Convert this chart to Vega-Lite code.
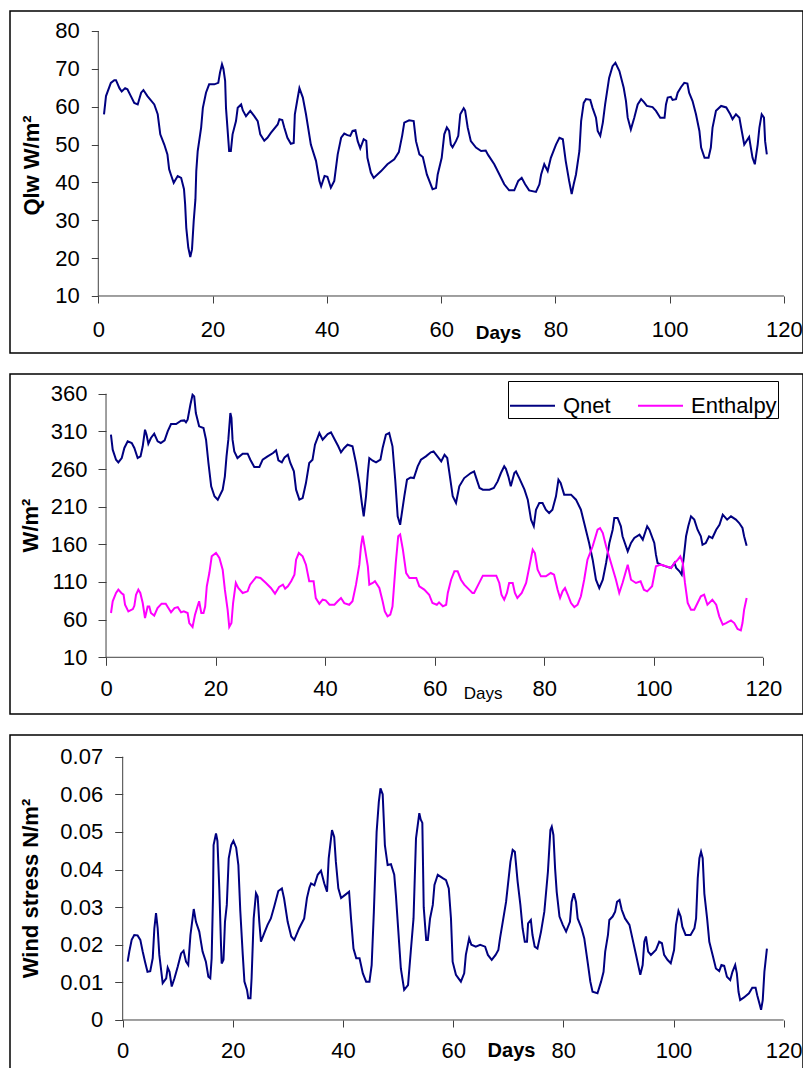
{
"$schema": "https://vega.github.io/schema/vega-lite/v6.json",
"background": "white",
"padding": {"left": 9, "top": 10, "right": 0, "bottom": 0},
"spacing": 19,
"resolve": {"scale": {"color": "independent"}, "legend": {"color": "independent"}},
"config": {
  "font": "Liberation Sans",
  "view": {"stroke": "#000000", "strokeWidth": 1.5},
  "axis": {"labelFont": "Liberation Sans", "titleFont": "Liberation Sans", "tickColor": "#404040", "labelColor": "#000000", "titleColor": "#000000", "grid": false, "domain": false, "labelFlush": false, "labelOverlap": false, "titleBaseline": "middle", "titleAlign": "center"},
  "legend": {"labelFont": "Liberation Sans"}
},
"datasets": {
"qlw": [{"d":1.0,"v":58},{"d":1.35,"v":62.8},{"d":2.2,"v":66.3},{"d":2.8,"v":67},{"d":3.1,"v":67},{"d":3.7,"v":64.9},{"d":4.1,"v":64},{"d":4.7,"v":64.9},{"d":5.1,"v":64.6},{"d":5.7,"v":62.8},{"d":6.3,"v":61},{"d":6.9,"v":60.6},{"d":7.5,"v":63.7},{"d":7.9,"v":64.4},{"d":8.6,"v":62.8},{"d":9.8,"v":60.6},{"d":10.4,"v":58},{"d":10.85,"v":52.7},{"d":11.55,"v":50},{"d":12.1,"v":47.4},{"d":12.4,"v":43.5},{"d":12.7,"v":42.1},{"d":13.2,"v":39.9},{"d":13.9,"v":41.7},{"d":14.5,"v":41.2},{"d":15,"v":38.2},{"d":15.2,"v":34.2},{"d":15.4,"v":28},{"d":15.75,"v":22.8},{"d":16.1,"v":20.3},{"d":16.4,"v":22.3},{"d":16.7,"v":29.8},{"d":17,"v":35.5},{"d":17.15,"v":43},{"d":17.4,"v":48.3},{"d":18,"v":54.5},{"d":18.3,"v":59.7},{"d":18.85,"v":63.7},{"d":19.4,"v":65.9},{"d":20.3,"v":65.9},{"d":21,"v":66.3},{"d":21.3,"v":69},{"d":21.65,"v":71.2},{"d":21.9,"v":70},{"d":22.2,"v":66.8},{"d":22.35,"v":59.7},{"d":22.9,"v":48.3},{"d":23.2,"v":48.3},{"d":23.5,"v":52.7},{"d":24.1,"v":56.2},{"d":24.4,"v":59.7},{"d":25,"v":60.6},{"d":25.3,"v":59},{"d":25.85,"v":57.5},{"d":26.6,"v":58.9},{"d":27.3,"v":57.5},{"d":27.9,"v":56.2},{"d":28.35,"v":52.7},{"d":29.05,"v":51},{"d":29.6,"v":51.8},{"d":30.2,"v":53.1},{"d":31.4,"v":55.3},{"d":31.7,"v":56.7},{"d":32.2,"v":56.5},{"d":32.55,"v":54.5},{"d":33.1,"v":51.8},{"d":33.7,"v":50.2},{"d":34.2,"v":50.4},{"d":34.4,"v":58},{"d":34.8,"v":61.5},{"d":35.2,"v":64.9},{"d":35.8,"v":62.4},{"d":36.35,"v":58},{"d":37.2,"v":50},{"d":38.1,"v":45.7},{"d":38.7,"v":40.4},{"d":39,"v":39},{"d":39.6,"v":41.7},{"d":40.1,"v":41.5},{"d":40.7,"v":38.6},{"d":41.3,"v":40.4},{"d":41.9,"v":47.4},{"d":42.5,"v":51.8},{"d":43.05,"v":52.9},{"d":43.6,"v":52.5},{"d":44.1,"v":52.3},{"d":44.5,"v":53.6},{"d":45,"v":53.8},{"d":45.4,"v":50.9},{"d":45.85,"v":49},{"d":46.45,"v":51.4},{"d":46.9,"v":51},{"d":47.1,"v":46.5},{"d":47.7,"v":42.6},{"d":48.2,"v":41.2},{"d":49.5,"v":43},{"d":50.6,"v":44.8},{"d":51.8,"v":46.1},{"d":52.6,"v":48},{"d":53.2,"v":52.5},{"d":53.55,"v":55.8},{"d":54.4,"v":56.4},{"d":55.2,"v":56.2},{"d":55.6,"v":50.9},{"d":56.2,"v":47.4},{"d":56.8,"v":46.7},{"d":57.5,"v":42.1},{"d":58.5,"v":38.2},{"d":59.1,"v":38.5},{"d":59.4,"v":42.1},{"d":60.1,"v":46.5},{"d":60.55,"v":52.7},{"d":61,"v":54.5},{"d":61.4,"v":53.6},{"d":61.7,"v":50},{"d":62,"v":49.3},{"d":62.6,"v":50.9},{"d":63,"v":52.3},{"d":63.35,"v":58},{"d":63.95,"v":59.6},{"d":64.2,"v":59},{"d":64.65,"v":54.5},{"d":65.2,"v":50.9},{"d":66.1,"v":49.2},{"d":67,"v":48.3},{"d":67.8,"v":48.4},{"d":68.25,"v":47.2},{"d":69.3,"v":44.8},{"d":70.2,"v":42.1},{"d":71.05,"v":39.5},{"d":71.9,"v":37.9},{"d":72.8,"v":37.9},{"d":73.5,"v":40.4},{"d":74.1,"v":41.2},{"d":74.7,"v":39.5},{"d":75.4,"v":37.9},{"d":76.6,"v":37.5},{"d":77.2,"v":39.5},{"d":77.5,"v":42.1},{"d":78.05,"v":44.8},{"d":78.65,"v":43},{"d":79.2,"v":46.5},{"d":80.1,"v":50},{"d":80.7,"v":51.8},{"d":81.3,"v":51.4},{"d":81.8,"v":45.7},{"d":82.4,"v":40.4},{"d":82.85,"v":36.9},{"d":83.2,"v":39.5},{"d":83.6,"v":42.1},{"d":84.2,"v":48.3},{"d":84.5,"v":56.2},{"d":84.95,"v":61},{"d":85.35,"v":62},{"d":86.1,"v":61.8},{"d":86.5,"v":59.7},{"d":87.1,"v":57.1},{"d":87.4,"v":53.6},{"d":87.85,"v":52.3},{"d":88.3,"v":55.8},{"d":88.7,"v":60.6},{"d":89.4,"v":67.6},{"d":90,"v":70.7},{"d":90.5,"v":71.6},{"d":91.2,"v":69.4},{"d":91.95,"v":65},{"d":92.35,"v":61.5},{"d":92.65,"v":57.1},{"d":93.2,"v":54},{"d":93.8,"v":57.1},{"d":94.4,"v":60.6},{"d":95,"v":62},{"d":95.5,"v":61.2},{"d":96,"v":60.2},{"d":97,"v":59.9},{"d":97.6,"v":58.9},{"d":98.35,"v":57.1},{"d":99.1,"v":57.1},{"d":99.35,"v":60.6},{"d":99.65,"v":62.4},{"d":100.2,"v":62.6},{"d":100.5,"v":61.8},{"d":101.1,"v":62},{"d":101.4,"v":63.7},{"d":102,"v":65.2},{"d":102.55,"v":66.3},{"d":103.1,"v":66.1},{"d":103.4,"v":63.7},{"d":104,"v":61.5},{"d":104.6,"v":58},{"d":105.2,"v":53.6},{"d":105.5,"v":49.2},{"d":106.1,"v":46.5},{"d":106.8,"v":46.5},{"d":107.2,"v":49.2},{"d":107.5,"v":54.5},{"d":108.1,"v":58.9},{"d":109,"v":60.2},{"d":109.9,"v":59.8},{"d":110.6,"v":58},{"d":111,"v":56.7},{"d":111.6,"v":58},{"d":112.2,"v":57.1},{"d":112.5,"v":54.5},{"d":113.05,"v":50},{"d":113.9,"v":52},{"d":114.2,"v":49.2},{"d":114.5,"v":46.5},{"d":114.9,"v":44.8},{"d":115.4,"v":50},{"d":115.7,"v":54.5},{"d":116.1,"v":58},{"d":116.5,"v":57.1},{"d":116.7,"v":50.9},{"d":117,"v":47.4}],
"qnet": [{"d":0.9,"v":305.6},{"d":1.22,"v":285.7},{"d":1.83,"v":272.4},{"d":2.25,"v":268.9},{"d":2.87,"v":274.6},{"d":3.35,"v":288},{"d":3.96,"v":296.8},{"d":4.7,"v":294.6},{"d":5.17,"v":288},{"d":5.78,"v":274.6},{"d":6.3,"v":276.8},{"d":6.7,"v":290.2},{"d":7.12,"v":312.2},{"d":7.4,"v":305.6},{"d":7.73,"v":293.6},{"d":8.2,"v":301.2},{"d":8.8,"v":306.9},{"d":9.43,"v":296.8},{"d":10,"v":294.6},{"d":10.7,"v":298.2},{"d":11.26,"v":310.1},{"d":11.87,"v":319.8},{"d":12.8,"v":319.8},{"d":13.7,"v":324.2},{"d":14.3,"v":324.6},{"d":14.6,"v":322},{"d":14.9,"v":325.5},{"d":15.4,"v":345.4},{"d":15.8,"v":358.7},{"d":16.1,"v":356.5},{"d":16.4,"v":334.4},{"d":17,"v":316.7},{"d":17.8,"v":314.5},{"d":18.26,"v":299},{"d":18.7,"v":268},{"d":19.2,"v":237},{"d":19.8,"v":223.8},{"d":20.4,"v":219.3},{"d":21.3,"v":232.6},{"d":21.7,"v":250.3},{"d":22,"v":276.9},{"d":22.33,"v":299},{"d":22.7,"v":334.4},{"d":22.9,"v":327.9},{"d":23.1,"v":299},{"d":23.42,"v":283.5},{"d":24,"v":274.6},{"d":24.95,"v":280.4},{"d":25.85,"v":280.4},{"d":26.35,"v":272.4},{"d":27.07,"v":262.7},{"d":28,"v":262.7},{"d":28.6,"v":272.4},{"d":29.5,"v":276.8},{"d":30.5,"v":281.3},{"d":31.05,"v":284.8},{"d":31.47,"v":271.6},{"d":32.1,"v":268.9},{"d":32.6,"v":275.5},{"d":33.2,"v":279},{"d":33.65,"v":268},{"d":34.3,"v":257},{"d":34.7,"v":232.6},{"d":35.3,"v":219.3},{"d":35.9,"v":221.5},{"d":36.5,"v":241.4},{"d":37.1,"v":268},{"d":37.7,"v":272.4},{"d":38.15,"v":292.3},{"d":38.95,"v":307.8},{"d":39.55,"v":299},{"d":40.47,"v":306.5},{"d":41.07,"v":308.7},{"d":41.7,"v":299.9},{"d":42.4,"v":290.2},{"d":42.9,"v":282.2},{"d":43.5,"v":288},{"d":44.1,"v":292.3},{"d":45,"v":290.2},{"d":45.64,"v":268},{"d":46.25,"v":241.4},{"d":46.7,"v":214.9},{"d":47.05,"v":197.2},{"d":47.47,"v":223.8},{"d":47.8,"v":254.7},{"d":48.07,"v":274.6},{"d":48.7,"v":271.1},{"d":49.3,"v":268.9},{"d":50.1,"v":272.4},{"d":50.5,"v":288},{"d":51.1,"v":305.6},{"d":51.7,"v":307.8},{"d":52.3,"v":290.2},{"d":52.8,"v":245.8},{"d":53.25,"v":197.2},{"d":53.7,"v":186},{"d":54.46,"v":223.8},{"d":54.95,"v":245.8},{"d":55.6,"v":248.8},{"d":56.2,"v":248},{"d":56.9,"v":263.6},{"d":57.5,"v":272.4},{"d":58.4,"v":276.8},{"d":59.3,"v":282.2},{"d":59.8,"v":283.5},{"d":60.5,"v":276.8},{"d":61.2,"v":270.2},{"d":61.8,"v":279},{"d":62.3,"v":274.6},{"d":62.7,"v":254.7},{"d":63.3,"v":223.8},{"d":63.9,"v":214.9},{"d":64.5,"v":237},{"d":65.4,"v":248},{"d":66.6,"v":254.7},{"d":67.2,"v":256.8},{"d":67.6,"v":248},{"d":68.2,"v":234.8},{"d":68.8,"v":232.6},{"d":70,"v":232.6},{"d":70.8,"v":234.8},{"d":71.5,"v":243.6},{"d":72.1,"v":254.7},{"d":72.7,"v":263.6},{"d":73,"v":260.3},{"d":73.45,"v":250.3},{"d":73.9,"v":237},{"d":74.55,"v":254.7},{"d":74.85,"v":256.8},{"d":75.45,"v":248},{"d":76.4,"v":232.6},{"d":77,"v":219.3},{"d":77.6,"v":192.7},{"d":78.1,"v":184},{"d":78.5,"v":206},{"d":79.1,"v":214.9},{"d":79.7,"v":214.9},{"d":80.3,"v":206},{"d":80.9,"v":201.6},{"d":81.5,"v":206},{"d":82.15,"v":223.8},{"d":82.6,"v":245.8},{"d":83,"v":241.4},{"d":83.65,"v":226},{"d":84.3,"v":226},{"d":84.9,"v":226},{"d":85.8,"v":219.3},{"d":86.7,"v":206},{"d":87.3,"v":188.3},{"d":88.2,"v":161.8},{"d":88.85,"v":139.6},{"d":89.45,"v":113},{"d":90.06,"v":102},{"d":90.7,"v":113},{"d":91.3,"v":135.2},{"d":91.9,"v":161.8},{"d":92.5,"v":179.4},{"d":92.8,"v":195},{"d":93.4,"v":195},{"d":94,"v":184},{"d":94.3,"v":170.7},{"d":95.25,"v":150.8},{"d":95.85,"v":161.8},{"d":96.45,"v":168.4},{"d":97.4,"v":172.8},{"d":98,"v":166.2},{"d":98.8,"v":184},{"d":99.2,"v":179.4},{"d":100.1,"v":161.8},{"d":100.4,"v":146.3},{"d":100.7,"v":135.2},{"d":101.3,"v":133.1},{"d":102.2,"v":130.8},{"d":103.15,"v":128.6},{"d":103.8,"v":135.2},{"d":104.1,"v":128.6},{"d":104.7,"v":124.2},{"d":105.1,"v":119.7},{"d":105.5,"v":144.1},{"d":105.9,"v":170.7},{"d":106.3,"v":184},{"d":106.8,"v":197.2},{"d":107.4,"v":192.8},{"d":108,"v":179.4},{"d":108.6,"v":170.7},{"d":108.9,"v":159.5},{"d":109.5,"v":161.7},{"d":110.1,"v":170.7},{"d":110.7,"v":168.4},{"d":111.4,"v":179.4},{"d":112,"v":186},{"d":112.6,"v":199.4},{"d":113.4,"v":192.8},{"d":114.1,"v":197.2},{"d":115,"v":192.8},{"d":115.6,"v":188.3},{"d":116.2,"v":181.7},{"d":116.5,"v":170.7},{"d":116.96,"v":158.2}],
"enth": [{"d":0.91,"v":68.8},{"d":1.22,"v":84.4},{"d":1.83,"v":95.4},{"d":2.25,"v":99.8},{"d":2.8,"v":95.4},{"d":3.2,"v":93.2},{"d":3.47,"v":79.8},{"d":4.08,"v":71},{"d":4.9,"v":74},{"d":5.17,"v":78.4},{"d":5.48,"v":93.1},{"d":5.9,"v":99.8},{"d":6.26,"v":95.4},{"d":6.7,"v":82.1},{"d":7.12,"v":62.2},{"d":7.6,"v":77.5},{"d":7.9,"v":77.5},{"d":8.2,"v":68.8},{"d":8.8,"v":65.3},{"d":9.4,"v":75.3},{"d":10.15,"v":81.2},{"d":10.9,"v":81.2},{"d":11.87,"v":69.7},{"d":12.5,"v":75.3},{"d":13.1,"v":76.6},{"d":13.7,"v":69.7},{"d":14.2,"v":71},{"d":14.9,"v":68.8},{"d":15.2,"v":55.5},{"d":15.8,"v":50.2},{"d":16.25,"v":66.6},{"d":16.7,"v":77.5},{"d":17,"v":84.4},{"d":17.4,"v":68.8},{"d":17.8,"v":68.8},{"d":18.1,"v":77.5},{"d":18.4,"v":104.3},{"d":18.86,"v":121.9},{"d":19.3,"v":144.1},{"d":20.08,"v":148.5},{"d":20.7,"v":142},{"d":21.3,"v":126.3},{"d":21.7,"v":99.8},{"d":22.2,"v":73.2},{"d":22.5,"v":50.2},{"d":22.9,"v":55.5},{"d":23.2,"v":82.1},{"d":23.7,"v":108.7},{"d":24.15,"v":102},{"d":24.95,"v":95.4},{"d":25.85,"v":97.6},{"d":26.3,"v":106.5},{"d":27.4,"v":116.6},{"d":28.2,"v":115.3},{"d":29.2,"v":108.7},{"d":30.1,"v":102},{"d":30.85,"v":94.5},{"d":31.6,"v":103.4},{"d":32.3,"v":106.5},{"d":32.7,"v":101.2},{"d":33.2,"v":104.3},{"d":33.8,"v":110.9},{"d":34.4,"v":119.7},{"d":34.7,"v":139.6},{"d":35.2,"v":148.5},{"d":35.9,"v":144.1},{"d":36.5,"v":133},{"d":37.1,"v":110.9},{"d":37.9,"v":110.9},{"d":38.3,"v":88.7},{"d":38.95,"v":81.2},{"d":39.55,"v":86.5},{"d":40.1,"v":85.6},{"d":40.8,"v":79.8},{"d":41.7,"v":79.8},{"d":42.3,"v":84.4},{"d":42.9,"v":88.7},{"d":43.5,"v":82},{"d":44.4,"v":79.8},{"d":45,"v":84.4},{"d":45.64,"v":106.5},{"d":46.25,"v":133},{"d":46.55,"v":157.4},{"d":46.86,"v":171.5},{"d":47.3,"v":152.9},{"d":47.8,"v":130.8},{"d":48.07,"v":106.5},{"d":48.7,"v":108.7},{"d":49.1,"v":111},{"d":49.9,"v":102},{"d":50.5,"v":84.4},{"d":50.9,"v":71},{"d":51.4,"v":64.4},{"d":51.9,"v":66.6},{"d":52.3,"v":77.5},{"d":52.9,"v":135.2},{"d":53.35,"v":170.7},{"d":53.7,"v":173},{"d":54.2,"v":152.9},{"d":54.8,"v":121.9},{"d":55.4,"v":115.3},{"d":56.65,"v":115.3},{"d":57.2,"v":104.3},{"d":58.1,"v":99.9},{"d":59,"v":93.1},{"d":59.6,"v":82.1},{"d":60.4,"v":79.8},{"d":60.8,"v":82.9},{"d":61.5,"v":77.7},{"d":62.1,"v":79.8},{"d":62.4,"v":95.4},{"d":63,"v":113},{"d":63.6,"v":124.2},{"d":64.2,"v":124.2},{"d":64.8,"v":113},{"d":65.4,"v":106.5},{"d":66.3,"v":99.9},{"d":66.9,"v":95.4},{"d":67.2,"v":95.4},{"d":67.97,"v":106.5},{"d":68.8,"v":118.4},{"d":70.3,"v":118.4},{"d":71.25,"v":118.4},{"d":71.8,"v":108.7},{"d":72.2,"v":93.1},{"d":72.7,"v":86.5},{"d":73.2,"v":95.4},{"d":73.6,"v":108.7},{"d":74.25,"v":108.7},{"d":74.65,"v":95.4},{"d":75.1,"v":88.8},{"d":75.9,"v":95.4},{"d":76.7,"v":108.7},{"d":77.3,"v":130.8},{"d":77.9,"v":152.9},{"d":78.3,"v":148.5},{"d":78.8,"v":126.4},{"d":79.4,"v":117.5},{"d":80.3,"v":117.5},{"d":81.2,"v":121.9},{"d":81.8,"v":119.7},{"d":82.45,"v":99.8},{"d":82.9,"v":88.8},{"d":83.35,"v":97.6},{"d":83.8,"v":102},{"d":84.3,"v":93.2},{"d":84.9,"v":82.1},{"d":85.5,"v":76.6},{"d":86.1,"v":79.8},{"d":86.7,"v":91},{"d":87.3,"v":113},{"d":87.9,"v":139.6},{"d":88.85,"v":157.4},{"d":89.75,"v":179.4},{"d":90.2,"v":181.6},{"d":90.7,"v":175},{"d":91.3,"v":157.4},{"d":92.2,"v":135.2},{"d":93.1,"v":113},{"d":93.7,"v":95.4},{"d":94.3,"v":108.7},{"d":95.25,"v":133},{"d":95.85,"v":113},{"d":96.75,"v":108.7},{"d":97.6,"v":110.9},{"d":98.2,"v":99.8},{"d":98.8,"v":97.6},{"d":99.7,"v":104.3},{"d":100.4,"v":130.8},{"d":101.3,"v":133},{"d":102.2,"v":131},{"d":103.15,"v":128.6},{"d":103.8,"v":135.2},{"d":104.4,"v":139.6},{"d":104.85,"v":144.1},{"d":105.3,"v":135.2},{"d":105.7,"v":108.7},{"d":106.2,"v":82.1},{"d":106.8,"v":73.2},{"d":107.4,"v":73.2},{"d":108,"v":82.1},{"d":108.6,"v":91},{"d":109.2,"v":93.2},{"d":109.8,"v":79.8},{"d":110.7,"v":86.5},{"d":111.4,"v":79.8},{"d":111.96,"v":64.4},{"d":112.6,"v":53.3},{"d":113.2,"v":55.5},{"d":114.1,"v":59},{"d":114.7,"v":55.5},{"d":115.3,"v":47.6},{"d":115.9,"v":45.8},{"d":116.2,"v":55.5},{"d":116.5,"v":73.2},{"d":116.96,"v":88.7}],
"wind": [{"d":0.9,"v":0.0155},{"d":1.2,"v":0.0182},{"d":1.63,"v":0.0213},{"d":2.1,"v":0.0226},{"d":2.7,"v":0.0225},{"d":3.2,"v":0.0213},{"d":3.63,"v":0.0182},{"d":4.05,"v":0.0155},{"d":4.5,"v":0.0128},{"d":5,"v":0.013},{"d":5.45,"v":0.0164},{"d":5.75,"v":0.0244},{"d":6.05,"v":0.0284},{"d":6.35,"v":0.0244},{"d":6.65,"v":0.0173},{"d":7.26,"v":0.0098},{"d":7.9,"v":0.0111},{"d":8.17,"v":0.0139},{"d":8.5,"v":0.0128},{"d":8.9,"v":0.0089},{"d":9.4,"v":0.0111},{"d":10,"v":0.0142},{"d":10.6,"v":0.0177},{"d":11.05,"v":0.0184},{"d":11.5,"v":0.0155},{"d":11.9,"v":0.0146},{"d":12.3,"v":0.0226},{"d":12.9,"v":0.0295},{"d":13.3,"v":0.0261},{"d":13.9,"v":0.0235},{"d":14.5,"v":0.0182},{"d":15.1,"v":0.0155},{"d":15.55,"v":0.0115},{"d":15.9,"v":0.0111},{"d":16.15,"v":0.0164},{"d":16.4,"v":0.0332},{"d":16.5,"v":0.0465},{"d":16.94,"v":0.0496},{"d":17.2,"v":0.0476},{"d":17.55,"v":0.0345},{"d":17.85,"v":0.0199},{"d":17.97,"v":0.015},{"d":18.3,"v":0.016},{"d":18.57,"v":0.0261},{"d":18.9,"v":0.0306},{"d":19.25,"v":0.043},{"d":19.7,"v":0.0465},{"d":20.1,"v":0.0476},{"d":20.6,"v":0.0458},{"d":21,"v":0.0412},{"d":21.35,"v":0.029},{"d":21.8,"v":0.0173},{"d":22.1,"v":0.0102},{"d":22.57,"v":0.008},{"d":22.8,"v":0.0058},{"d":23.2,"v":0.0058},{"d":23.4,"v":0.0111},{"d":23.78,"v":0.027},{"d":24.2,"v":0.0337},{"d":24.5,"v":0.0328},{"d":24.8,"v":0.0261},{"d":25.1,"v":0.0208},{"d":25.7,"v":0.0231},{"d":26.3,"v":0.0253},{"d":26.9,"v":0.027},{"d":27.5,"v":0.0301},{"d":28.25,"v":0.0343},{"d":28.9,"v":0.035},{"d":29.3,"v":0.0323},{"d":29.95,"v":0.0261},{"d":30.6,"v":0.0222},{"d":31.15,"v":0.0213},{"d":32.05,"v":0.0244},{"d":32.95,"v":0.027},{"d":33.45,"v":0.0324},{"d":33.9,"v":0.0352},{"d":34.2,"v":0.0363},{"d":34.8,"v":0.0358},{"d":35.4,"v":0.0386},{"d":36,"v":0.0397},{"d":36.6,"v":0.0363},{"d":37.1,"v":0.0341},{"d":37.4,"v":0.043},{"d":38,"v":0.0505},{"d":38.4,"v":0.0487},{"d":38.7,"v":0.0421},{"d":39.15,"v":0.035},{"d":39.65,"v":0.0324},{"d":40.5,"v":0.0334},{"d":41.1,"v":0.0341},{"d":41.45,"v":0.027},{"d":41.9,"v":0.019},{"d":42.4,"v":0.0164},{"d":43,"v":0.0164},{"d":43.6,"v":0.0124},{"d":44.2,"v":0.0102},{"d":44.8,"v":0.0102},{"d":45.2,"v":0.0146},{"d":45.6,"v":0.0288},{"d":46.1,"v":0.05},{"d":46.5,"v":0.058},{"d":46.8,"v":0.0616},{"d":47.2,"v":0.06},{"d":47.6,"v":0.0465},{"d":48.1,"v":0.0412},{"d":48.7,"v":0.0414},{"d":49.3,"v":0.0386},{"d":49.6,"v":0.0332},{"d":50.5,"v":0.0137},{"d":51.1,"v":0.008},{"d":51.8,"v":0.0093},{"d":52.3,"v":0.0182},{"d":52.8,"v":0.027},{"d":53.25,"v":0.0483},{"d":53.85,"v":0.055},{"d":54.1,"v":0.0533},{"d":54.4,"v":0.0524},{"d":54.65,"v":0.03},{"d":55.1,"v":0.0213},{"d":55.4,"v":0.0213},{"d":55.8,"v":0.027},{"d":56.3,"v":0.0306},{"d":56.6,"v":0.0359},{"d":57.2,"v":0.0386},{"d":58.1,"v":0.0377},{"d":58.7,"v":0.0372},{"d":59.2,"v":0.035},{"d":59.6,"v":0.027},{"d":59.9,"v":0.0155},{"d":60.5,"v":0.012},{"d":61.4,"v":0.0102},{"d":62,"v":0.0124},{"d":62.3,"v":0.0173},{"d":62.9,"v":0.0217},{"d":63.3,"v":0.02},{"d":64.1,"v":0.0195},{"d":64.9,"v":0.02},{"d":65.8,"v":0.0195},{"d":66.3,"v":0.0173},{"d":67,"v":0.016},{"d":67.7,"v":0.0173},{"d":68.2,"v":0.0186},{"d":68.5,"v":0.0217},{"d":69,"v":0.0261},{"d":69.6,"v":0.0314},{"d":70.4,"v":0.0421},{"d":70.8,"v":0.0452},{"d":71.2,"v":0.0447},{"d":71.7,"v":0.0368},{"d":72.2,"v":0.0306},{"d":72.6,"v":0.0244},{"d":73,"v":0.0208},{"d":73.4,"v":0.0208},{"d":73.6,"v":0.0257},{"d":74.1,"v":0.0266},{"d":74.4,"v":0.0226},{"d":74.8,"v":0.0195},{"d":75.3,"v":0.019},{"d":75.95,"v":0.0235},{"d":76.55,"v":0.0288},{"d":77.2,"v":0.0394},{"d":77.65,"v":0.0505},{"d":77.9,"v":0.0514},{"d":78.2,"v":0.0492},{"d":78.5,"v":0.0403},{"d":78.8,"v":0.034},{"d":79.3,"v":0.0275},{"d":79.9,"v":0.0253},{"d":80.5,"v":0.0235},{"d":81.2,"v":0.0261},{"d":81.5,"v":0.0314},{"d":81.9,"v":0.0337},{"d":82.3,"v":0.0314},{"d":82.6,"v":0.027},{"d":83.3,"v":0.0244},{"d":83.8,"v":0.0217},{"d":84.4,"v":0.0155},{"d":84.9,"v":0.0102},{"d":85.3,"v":0.0075},{"d":86.2,"v":0.0071},{"d":86.85,"v":0.0102},{"d":87.3,"v":0.0128},{"d":87.6,"v":0.0182},{"d":88.1,"v":0.0226},{"d":88.35,"v":0.0266},{"d":88.95,"v":0.0275},{"d":89.4,"v":0.0288},{"d":89.75,"v":0.0314},{"d":90.2,"v":0.0319},{"d":90.6,"v":0.0293},{"d":91.2,"v":0.027},{"d":92,"v":0.0253},{"d":92.6,"v":0.0213},{"d":93.2,"v":0.0173},{"d":93.97,"v":0.012},{"d":94.4,"v":0.0146},{"d":94.7,"v":0.0208},{"d":95,"v":0.0222},{"d":95.4,"v":0.0182},{"d":95.9,"v":0.0173},{"d":96.8,"v":0.0186},{"d":97.4,"v":0.0208},{"d":97.9,"v":0.0204},{"d":98.3,"v":0.0173},{"d":98.9,"v":0.016},{"d":99.5,"v":0.0151},{"d":100.1,"v":0.0186},{"d":100.45,"v":0.0253},{"d":100.9,"v":0.029},{"d":101.3,"v":0.0275},{"d":101.6,"v":0.0248},{"d":102.2,"v":0.0226},{"d":103.1,"v":0.0226},{"d":103.8,"v":0.0244},{"d":104.1,"v":0.027},{"d":104.4,"v":0.0377},{"d":104.7,"v":0.043},{"d":105,"v":0.0447},{"d":105.3,"v":0.043},{"d":105.6,"v":0.0336},{"d":106.1,"v":0.027},{"d":106.5,"v":0.0208},{"d":107.1,"v":0.0173},{"d":107.7,"v":0.0137},{"d":108.3,"v":0.013},{"d":108.7,"v":0.0146},{"d":109.2,"v":0.0144},{"d":109.7,"v":0.0115},{"d":110.3,"v":0.0106},{"d":110.7,"v":0.0128},{"d":111.2,"v":0.0146},{"d":111.5,"v":0.0124},{"d":111.8,"v":0.0075},{"d":112.1,"v":0.0053},{"d":112.8,"v":0.006},{"d":113.7,"v":0.0071},{"d":114.3,"v":0.0086},{"d":114.9,"v":0.0086},{"d":115.2,"v":0.0066},{"d":115.6,"v":0.0044},{"d":115.9,"v":0.0027},{"d":116.2,"v":0.0053},{"d":116.5,"v":0.0128},{"d":116.96,"v":0.019}]
},
"vconcat": [
{
  "width": 793, "height": 342,
  "layer": [
    {"data": {"name": "qlw"},
     "mark": {"type": "line", "color": "#000080", "strokeWidth": 2},
     "encoding": {
       "x": {"field": "d", "type": "quantitative",
             "scale": {"domain": [-15.45, 123.33], "nice": false, "zero": false},
             "axis": {"values": [0,20,40,60,80,100,120], "offset": -57, "tickSize": 7, "labelFontSize": 22, "labelPadding": 16,
                      "title": "Days", "titleFontSize": 19, "titleFontWeight": "bold", "titleX": 488, "titleY": 36}},
       "y": {"field": "v", "type": "quantitative",
             "scale": {"domain": [-5.06, 85.28], "nice": false, "zero": false},
             "axis": {"values": [10,20,30,40,50,60,70,80], "offset": -88.3, "tickSize": 7, "labelFontSize": 22, "labelPadding": 12,
                      "title": "Qlw W/m²", "titleFontSize": 22, "titleFontWeight": "bold", "titleX": -67, "titleY": 154, "titleAngle": 270}}
     }},
    {"data": {"values": [{}]},
     "mark": {"type": "rule", "color": "#404040", "strokeWidth": 1},
     "encoding": {"x": {"datum": 0, "type": "quantitative"}, "x2": {"datum": 120}, "y": {"datum": 10, "type": "quantitative"}}},
    {"data": {"values": [{}]},
     "mark": {"type": "rule", "color": "#404040", "strokeWidth": 1},
     "encoding": {"x": {"datum": 0, "type": "quantitative"}, "y": {"datum": 10, "type": "quantitative"}, "y2": {"datum": 80}}}
  ]
},
{
  "width": 793, "height": 340,
  "layer": [
    {"data": {"name": "qnet"},
     "mark": {"type": "line", "strokeWidth": 2},
     "encoding": {
       "x": {"field": "d", "type": "quantitative",
             "scale": {"domain": [-17.53, 127.25], "nice": false, "zero": false},
             "axis": {"values": [0,20,40,60,80,100,120], "offset": -56.7, "tickSize": 8, "labelFontSize": 22, "labelPadding": 13,
                      "title": "Days", "titleFontSize": 17, "titleFontWeight": "normal", "titleX": 472.7, "titleY": 35.7}},
       "y": {"field": "v", "type": "quantitative",
             "scale": {"domain": [-65.3, 386.2], "nice": false, "zero": false},
             "axis": {"values": [10,60,110,160,210,260,310,360], "offset": -96, "tickSize": 8, "labelFontSize": 22, "labelPadding": 11,
                      "title": "W/m²", "titleFontSize": 22, "titleFontWeight": "bold", "titleX": -76, "titleY": 151, "titleAngle": 270}},
       "color": {"datum": "Qnet", "type": "nominal",
                 "scale": {"domain": ["Qnet", "Enthalpy"], "range": ["#000080", "#FF00FF"]},
                 "legend": {"orient": "none", "legendX": 498, "legendY": 7, "direction": "horizontal", "title": null,
                            "symbolType": "stroke", "symbolSize": 2025, "symbolStrokeWidth": 2, "labelFontSize": 22,
                            "strokeColor": "#000000", "fillColor": "#FFFFFF", "padding": 1, "columnPadding": 23, "labelOffset": 7}}
     }},
    {"data": {"name": "enth"},
     "mark": {"type": "line", "strokeWidth": 2},
     "encoding": {
       "x": {"field": "d", "type": "quantitative"},
       "y": {"field": "v", "type": "quantitative"},
       "color": {"datum": "Enthalpy", "type": "nominal"}
     }},
    {"data": {"values": [{}]},
     "mark": {"type": "rule", "color": "#404040", "strokeWidth": 1},
     "encoding": {"x": {"datum": 0, "type": "quantitative"}, "x2": {"datum": 120}, "y": {"datum": 10, "type": "quantitative"}}},
    {"data": {"values": [{}]},
     "mark": {"type": "rule", "color": "#404040", "strokeWidth": 1},
     "encoding": {"x": {"datum": 0, "type": "quantitative"}, "y": {"datum": 10, "type": "quantitative"}, "y2": {"datum": 360}}}
  ]
},
{
  "width": 793, "height": 336,
  "layer": [
    {"data": {"name": "wind"},
     "mark": {"type": "line", "color": "#000080", "strokeWidth": 2},
     "encoding": {
       "x": {"field": "d", "type": "quantitative",
             "scale": {"domain": [-20.46, 123.51], "nice": false, "zero": false},
             "axis": {"values": [0,20,40,60,80,100,120], "offset": -51, "tickSize": 7, "labelFontSize": 22, "labelPadding": 13,
                      "title": "Days", "titleFontSize": 20, "titleFontWeight": "bold", "titleX": 501, "titleY": 30}},
       "y": {"field": "v", "type": "quantitative",
             "scale": {"domain": [-0.01356, 0.07577], "nice": false, "zero": false},
             "axis": {"values": [0,0.01,0.02,0.03,0.04,0.05,0.06,0.07], "format": "~g", "offset": -112.7, "tickSize": 8, "labelFontSize": 22, "labelPadding": 12,
                      "title": "Wind stress N/m²", "titleFontSize": 22, "titleFontWeight": "bold", "titleX": -92, "titleY": 153, "titleAngle": 270}}
     }},
    {"data": {"values": [{}]},
     "mark": {"type": "rule", "color": "#404040", "strokeWidth": 1},
     "encoding": {"x": {"datum": 0, "type": "quantitative"}, "x2": {"datum": 120}, "y": {"datum": 0, "type": "quantitative"}}},
    {"data": {"values": [{}]},
     "mark": {"type": "rule", "color": "#404040", "strokeWidth": 1},
     "encoding": {"x": {"datum": 0, "type": "quantitative"}, "y": {"datum": 0, "type": "quantitative"}, "y2": {"datum": 0.07}}}
  ]
}
]
}
